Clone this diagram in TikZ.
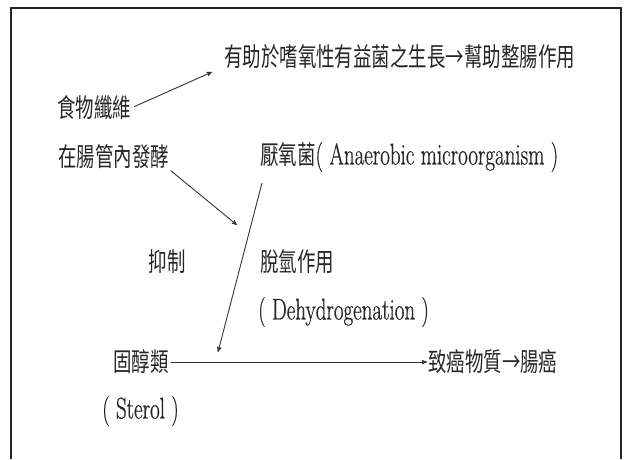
\documentclass[tikz,border=0pt]{standalone}
\usepackage{fontspec}
\usetikzlibrary{arrows,positioning}
\newfontfamily\cjkfont[FakeStretch=0.71]{Noto Sans CJK TC}
\newfontfamily\latfont[FakeStretch=0.70,FakeBold=0.6]{Latin Modern Roman}
\tikzset{
>=stealth',
  zh/.style={
    font=\cjkfont\fontsize{26}{29}\selectfont,
    text=black!85,
    inner sep=0pt,
    anchor=west},
  en/.style={
    font=\latfont\fontsize{30}{33}\selectfont,
    text=black!85,
    inner sep=0pt,
    anchor=west},
  link/.style={draw=black!80, line width=0.9pt, ->},
  frame/.style={draw=black!85, line width=1.4pt},
}

\begin{document}
\begin{tikzpicture}[x=1pt, y=-1pt]
    \useasboundingbox (0,0) rectangle (626,459);

    % frame (open at the bottom)
    \draw[frame] (11,459) -- (11,8) -- (621,8) -- (621,459);
    \draw[black!85, line width=2.2pt] (11,8) -- (621,8);

    % texts
    \node[zh] (benef) at (224,57) {有助於嗜氧性有益菌之生長→幫助整腸作用};
    \node[zh] (fiber) at (57,108) {食物纖維};
    \node[zh] (ferment) at (58,157) {在腸管內發酵};
    \node[zh] (anaer) at (260,157) {厭氧菌{\latfont\fontsize{30}{33}\selectfont( Anaerobic microorganism )}};
    \node[zh, anchor=center] (inhibit) at (167,262) {抑制};
    \node[zh] (dehyd) at (260,262) {脫氫作用};
    \node[en] (dehyden) at (258,312) {( Dehydrogenation )};
    \node[zh] (sterol) at (113,362) {固醇類};
    \node[en] (sterolen) at (102,411) {( Sterol )};
    \node[zh] (carc) at (428,362) {致癌物質→腸癌};

    % free ends
    \coordinate (fibtip) at (212,72);
    \coordinate (fertip) at (237,225);
    \coordinate (dehtop) at (262,183);
    \coordinate (dehtip) at (218,352);

    % arrows
    \draw[link, shorten <=3pt] (fiber.east) -- (fibtip);
    \draw[link, shorten <=2pt] (ferment.south east) -- (fertip);
    \draw[link] (dehtop) -- (dehtip);
    \draw[link, shorten <=2pt, shorten >=1pt] (sterol.east) -- (carc.west);

\end{tikzpicture}
\end{document}
